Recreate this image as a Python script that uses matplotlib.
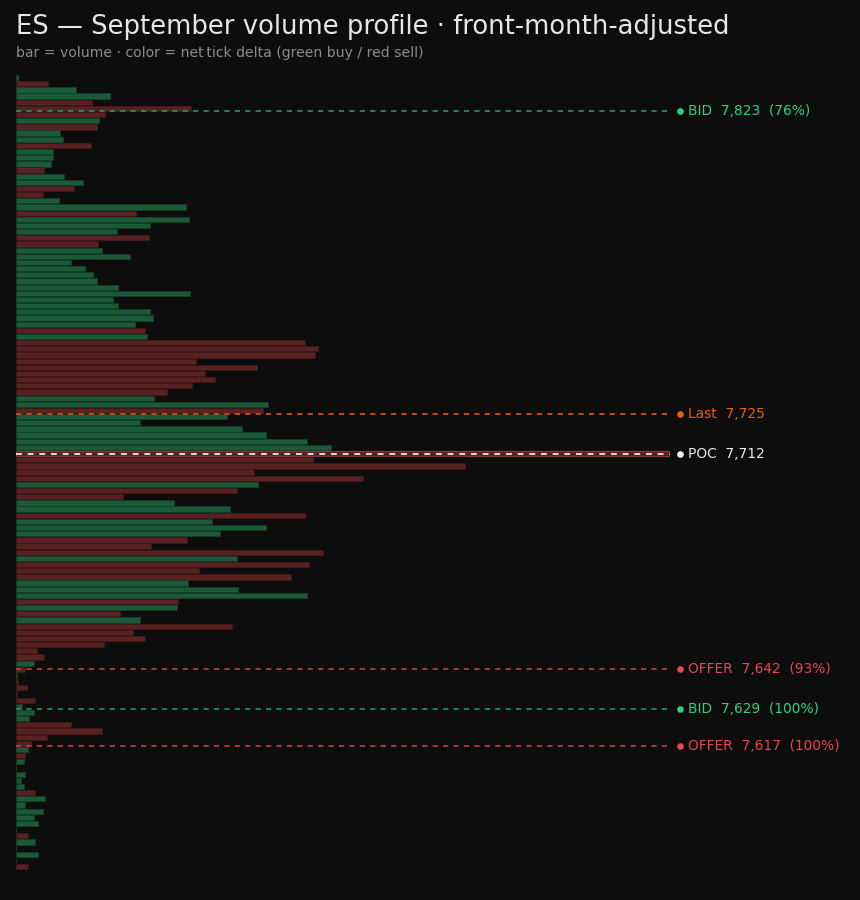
import numpy as np
import matplotlib
matplotlib.use("Agg")
import matplotlib.pyplot as plt
from matplotlib.transforms import blended_transform_factory

# ---- data ----
prices = np.arange(7834, 7576, -2)  # 2-point price bins, top to bottom

volume = [20, 320, 600, 940, 760, 1750, 890, 830, 810, 440,
          470, 750, 370, 370, 350, 280, 480, 670, 580, 270,
          430, 1700, 1200, 1730, 1340, 1010, 1330, 820, 860, 1140,
          550, 690, 770, 810, 1020, 1740, 970, 1020, 1340, 1370,
          1190, 1290, 1310, 2890, 3020, 2990, 1800, 2410, 1890, 1990,
          1760, 1510, 1380, 2520, 2470, 2110, 1240, 2260, 2500, 2910,
          3150, 6540, 2970, 4490, 2380, 3470, 2420, 2210, 1070, 1580,
          2140, 2890, 1960, 2500, 2040, 1710, 1350, 3070, 2210, 2930,
          1830, 2750, 1720, 2220, 2910, 1620, 1610, 1040, 1240, 2160,
          1170, 1290, 880, 210, 280, 180, 90, 10, 20, 110,
          10, 190, 60, 180, 130, 550, 860, 310, 150, 120,
          90, 80, 0, 90, 50, 80, 190, 290, 90, 270,
          180, 220, 0, 120, 190, 0, 220, 0, 120]

side = [1, -1, 1, 1, -1, -1, -1, 1, -1, 1,
        1, -1, 1, 1, 1, -1, 1, 1, -1, -1,
        1, 1, -1, 1, 1, 1, -1, -1, 1, 1,
        1, 1, 1, 1, 1, 1, 1, 1, 1, 1,
        1, -1, 1, -1, -1, -1, -1, -1, -1, -1,
        -1, -1, 1, 1, -1, 1, 1, 1, 1, 1,
        1, -1, -1, -1, -1, -1, 1, -1, -1, 1,
        1, -1, 1, 1, 1, -1, -1, -1, 1, -1,
        -1, -1, 1, 1, 1, -1, 1, -1, 1, -1,
        -1, -1, -1, -1, -1, 1, -1, 1, -1, -1,
        -1, -1, 1, 1, 1, -1, -1, -1, -1, 1,
        -1, 1, 1, 1, 1, 1, -1, 1, 1, 1,
        1, 1, 1, -1, 1, 1, 1, 1, -1]

poc_price = 7712
levels = ["BID", "Last", "POC", "OFFER", "BID", "OFFER"]
level_prices = [7823, 7725, 7712, 7642, 7629, 7617]
level_pct = ["76%", None, None, "93%", "100%", "100%"]

# ---- styles ----
BG = "#0d0d0d"
BAR_G = "#1a5a37"
BAR_R = "#5a2121"
EDGE_G = "#143f28"
EDGE_R = "#3e1818"
level_style = {
    "BID": ("#23955a", "#2fd27c"),
    "OFFER": ("#bf3f3f", "#e5484d"),
    "Last": ("#d0561a", "#e8600f"),
    "POC": ("#dcdcdc", "#ececec"),
}

fig = plt.figure(figsize=(8.6, 9.0), dpi=100, facecolor=BG)
ax = fig.add_axes([16 / 860, 1 - 869.7 / 900, 654 / 860, (869.7 - 74.5) / 900])
ax.set_facecolor(BG)

colors = [BAR_G if s > 0 else BAR_R for s in side]
edges = [EDGE_G if s > 0 else EDGE_R for s in side]
bars = ax.barh(prices, volume, height=1.7, color=colors, edgecolor=edges,
               linewidth=0.6, zorder=2)
# highlight POC bar
poc_idx = list(prices).index(poc_price)
bars[poc_idx].set_edgecolor("#7a3838")
bars[poc_idx].set_linewidth(0.9)

vmax = max(volume)
ax.set_xlim(0, vmax)
ax.set_ylim(prices[-1] - 1, prices[0] + 1)
for s in ax.spines.values():
    s.set_visible(False)
ax.set_xticks([])
ax.set_yticks([])

trans = blended_transform_factory(ax.transAxes, ax.transData)
dot_x = (680 - 16) / 654
txt_x = (688 - 16) / 654
for name, p, pct in zip(levels, level_prices, level_pct):
    lc, tc = level_style[name]
    lw = 1.4 if name == "POC" else 1.25
    ax.hlines(p, 0, vmax, colors=lc, linewidth=lw,
              linestyles=(0, (3.0, 3.0)), zorder=4)
    ax.plot([dot_x], [p], marker="o", markersize=4.8, color=tc,
            markeredgewidth=0, transform=trans, clip_on=False, zorder=5)
    label = f"{name}  {p:,}"
    if pct:
        label += f"  ({pct})"
    ax.text(txt_x, p, label, transform=trans, color=tc, fontsize=9.9,
            va="center", ha="left", clip_on=False)

fig.text(16 / 860, 1 - 26.5 / 900, "ES — September volume profile · front-month-adjusted",
         color="#e6e6e6", fontsize=18.6, va="center", ha="left")
fig.text(16 / 860, 1 - 53.5 / 900,
         "bar = volume · color = net\u2009tick delta (green buy / red sell)",
         color="#8c8c8c", fontsize=10.1, va="center", ha="left")

fig.savefig("out.png", dpi=100, facecolor=BG)
